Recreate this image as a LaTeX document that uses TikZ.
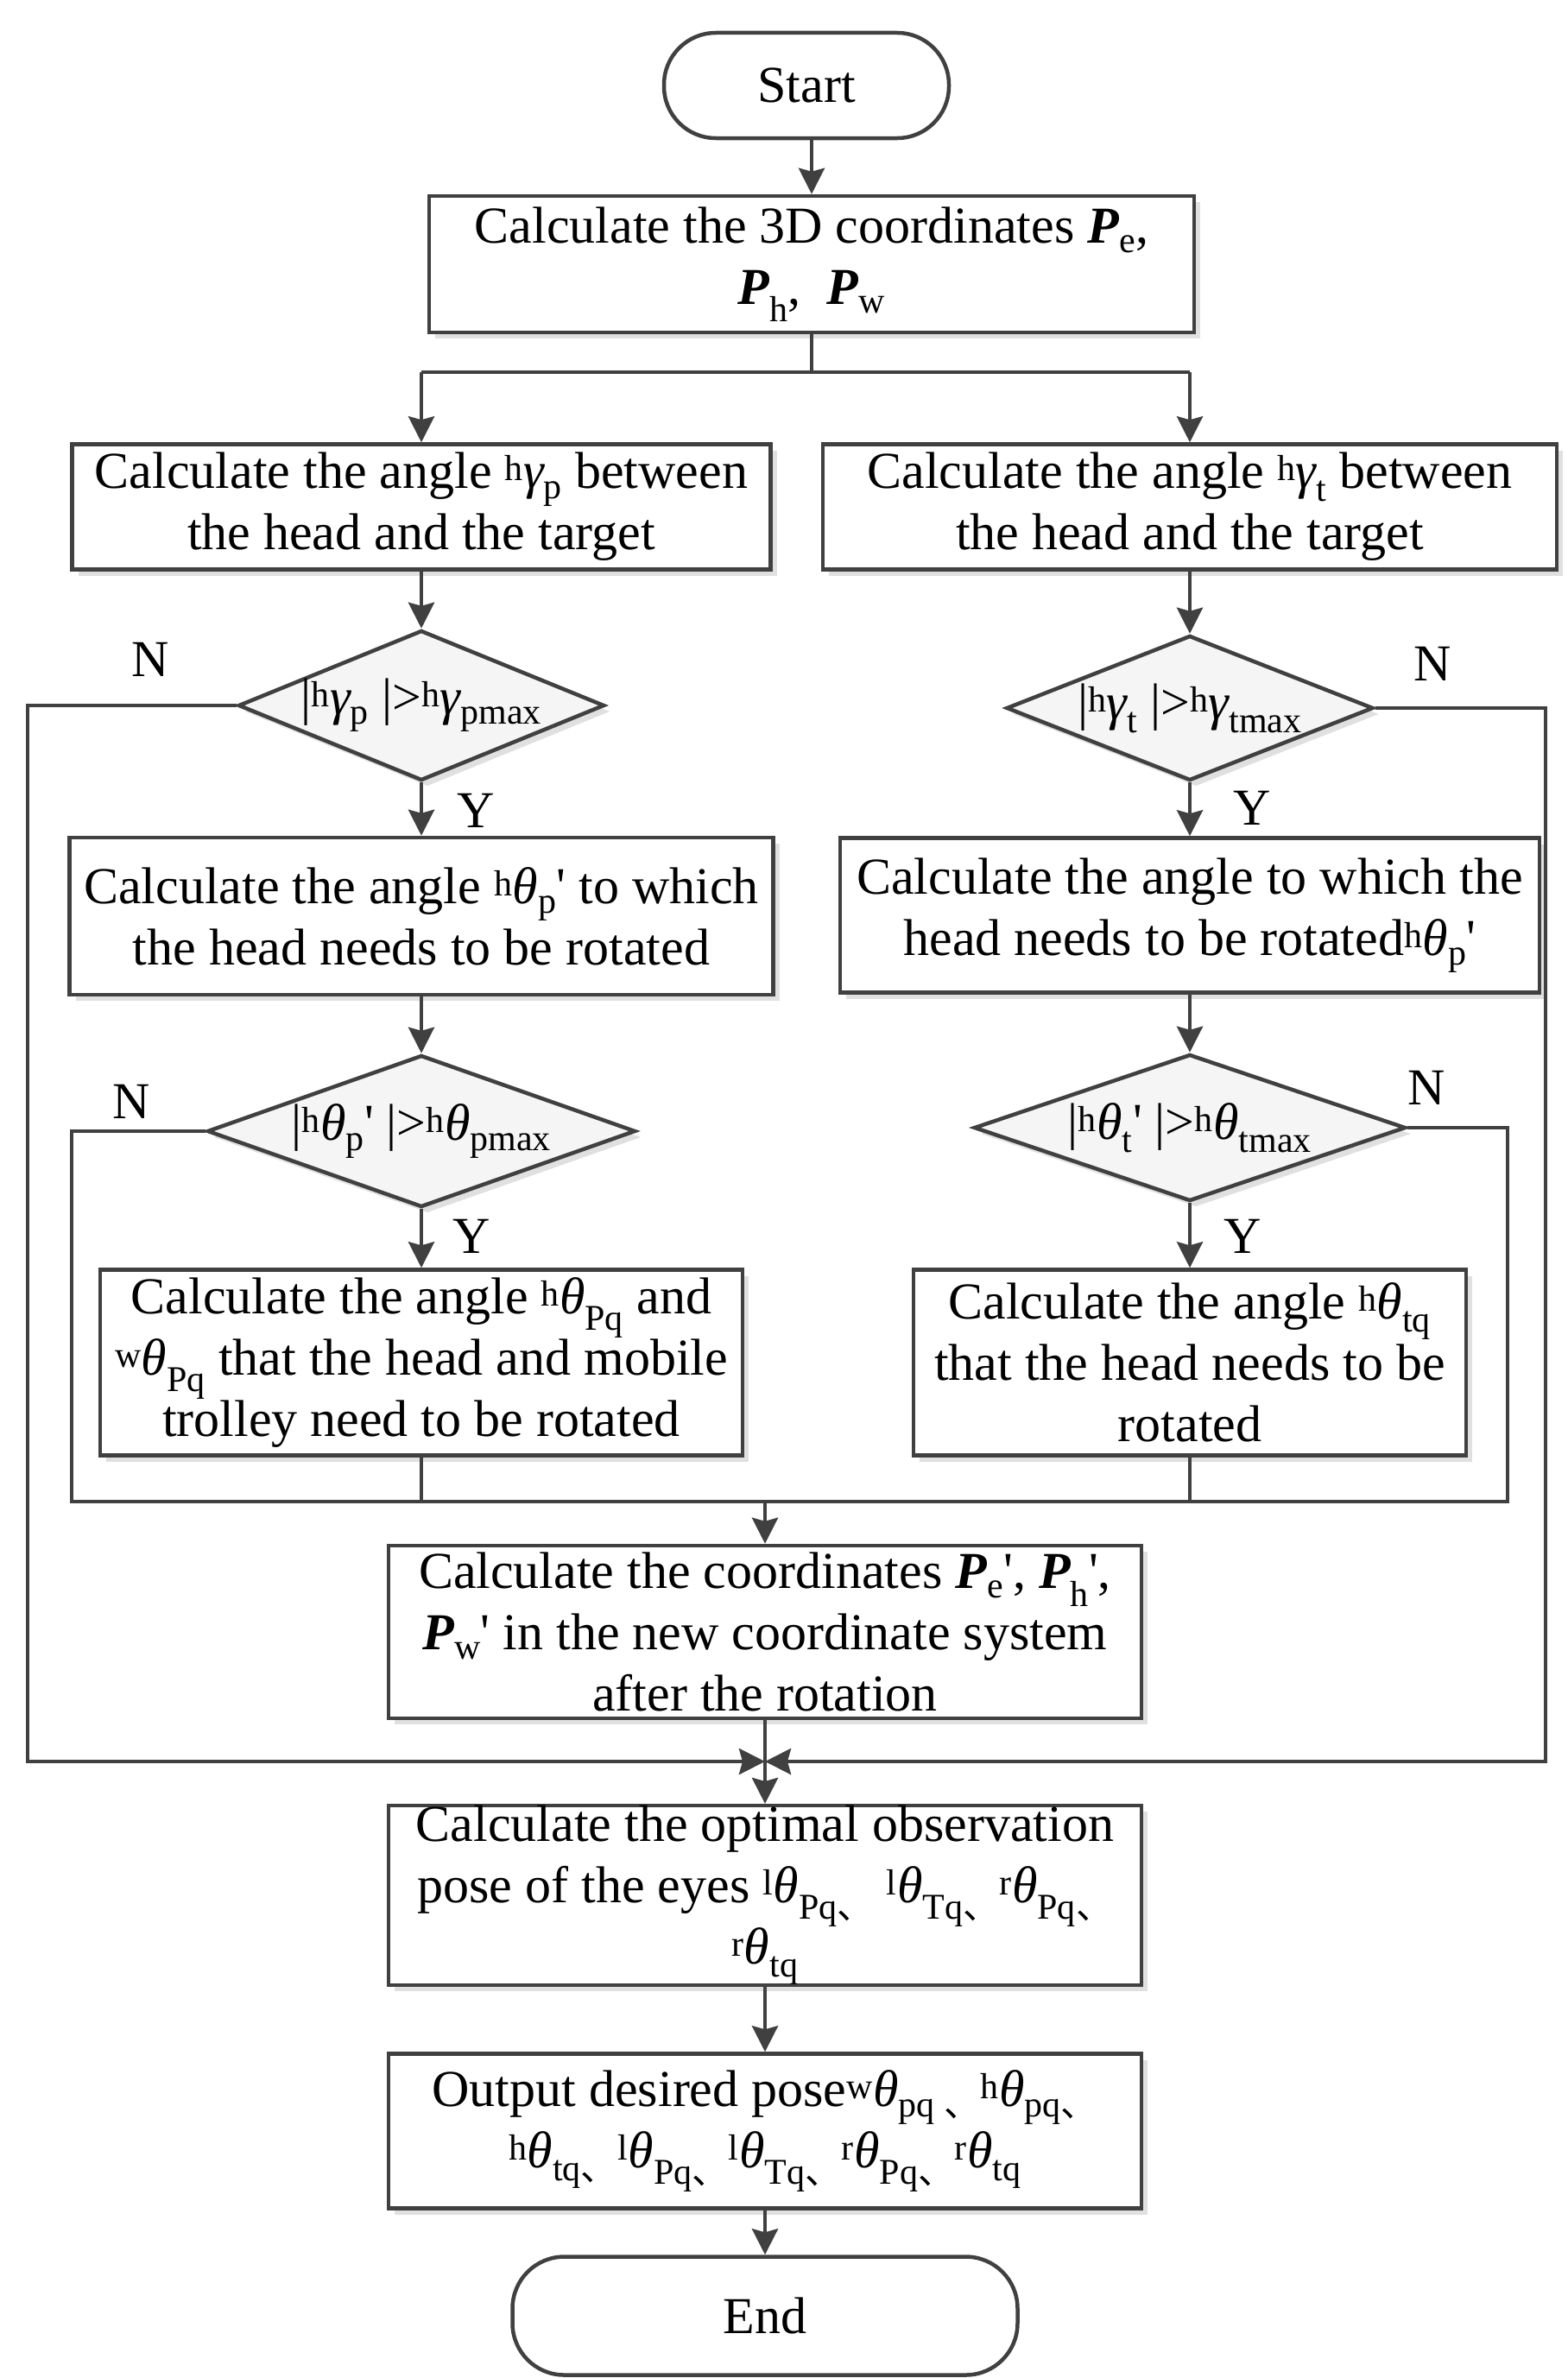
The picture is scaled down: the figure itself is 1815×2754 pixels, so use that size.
\documentclass[tikz,border=0pt]{standalone}
\usepackage{fontspec}
\setmainfont[Ligatures=TeXOff]{Liberation Serif}
\newfontfamily\cjkf{Noto Sans CJK SC}
\usetikzlibrary{arrows.meta,shapes.geometric,shadows}
\definecolor{ln}{HTML}{404040}
\newcommand\gsp[1]{\textsuperscript{#1}}
\newcommand\gsb[1]{\textsubscript{#1}}
\newcommand\ga{{\itshape γ}}
\newcommand\tha{{\itshape θ}}
\newcommand\BP{{\bfseries\itshape P}}
\newcommand\dn{{\cjkf 、}}
\tikzset{
  x=1pt, y=-1pt,
  base/.style={draw=ln, line width=4.5pt, align=center, inner sep=0pt,
    font=\fontsize{60pt}{71pt}\selectfont},
  box/.style={base, rectangle, fill=white,
    drop shadow={shadow xshift=7pt, shadow yshift=-7pt, fill=black!12, opacity=1}},
  term/.style={base, rectangle, rounded corners=60pt, fill=white},
  dia/.style={draw=ln, line width=4.5pt, diamond, inner sep=0pt, fill=black!4,
    drop shadow={shadow xshift=7pt, shadow yshift=-7pt, fill=black!12, opacity=1}},
  lab/.style={font=\fontsize{60pt}{71pt}\selectfont, inner sep=0pt},
  conn/.style={draw=ln, line width=4.5pt},
  arr/.style={conn, -{Stealth[length=30pt, width=30pt, inset=4pt]}},
}
\begin{document}
\begin{tikzpicture}
\useasboundingbox (0,0) rectangle (1815,2754);
% terminals
\node[term, minimum width=330pt, minimum height=122pt] (start) at (934,99) {Start};
\node[term, minimum width=585pt, minimum height=137pt] (end) at (886,2682) {End};
% boxes
\node[box, minimum width=886pt, minimum height=158pt] (b1) at (940,306)
  {Calculate the 3D coordinates \BP\gsb{e}, \\ \BP\gsb{h}, \ \BP\gsb{w}};
\node[box, minimum width=809pt, minimum height=145pt] (b2l) at (488,587)
  {Calculate the angle \gsp{h}\ga\gsb{p} between\\the head and the target};
\node[box, minimum width=850pt, minimum height=145pt] (b2r) at (1378,587)
  {Calculate the angle \gsp{h}\ga\gsb{t} between\\the head and the target};
\node[dia, minimum width=424pt, minimum height=174pt] (d1l) at (488,817) {};
\node[lab] at (d1l) {|\gsp{h}\ga\gsb{p} |>\gsp{h}\ga\gsb{pmax}};
\node[dia, minimum width=425pt, minimum height=168pt] (d1r) at (1378,820) {};
\node[lab] at (d1r) {|\gsp{h}\ga\gsb{t} |>\gsp{h}\ga\gsb{tmax}};
\node[box, minimum width=815pt, minimum height=182pt] (b3l) at (488,1061)
  {Calculate the angle \gsp{h}\tha\gsb{p}' to which\\the head needs to be rotated};
\node[box, minimum width=810pt, minimum height=179pt] (b3r) at (1378,1060)
  {Calculate the angle to which the\\head needs to be rotated\gsp{h}\tha\gsb{p}'};
\node[dia, minimum width=496pt, minimum height=176pt] (d2l) at (488,1310) {};
\node[lab] at (d2l) {|\gsp{h}\tha\gsb{p}' |>\gsp{h}\tha\gsb{pmax}};
\node[dia, minimum width=500pt, minimum height=170pt] (d2r) at (1378,1306) {};
\node[lab] at (d2r) {|\gsp{h}\tha\gsb{t}' |>\gsp{h}\tha\gsb{tmax}};
\node[box, minimum width=744pt, minimum height=215pt] (b4l) at (488,1578)
  {Calculate the angle \gsp{h}\tha\gsb{Pq} and\\\gsp{w}\tha\gsb{Pq} that the head and mobile\\trolley need to be rotated};
\node[box, minimum width=640pt, minimum height=215pt] (b4r) at (1378,1578)
  {Calculate the angle \gsp{h}\tha\gsb{tq}\\that the head needs to be\\rotated};
\node[box, minimum width=872pt, minimum height=200pt] (b5) at (886,1890)
  {Calculate the coordinates \BP\gsb{e}', \BP\gsb{h}',\\\BP\gsb{w}' in the new coordinate system\\after the rotation};
\node[box, minimum width=872pt, minimum height=204pt] (b6) at (886,2195)
  {Calculate the optimal observation\\pose of the eyes \gsp{l}\tha\gsb{Pq\dn} \gsp{l}\tha\gsb{Tq\dn}\gsp{r}\tha\gsb{Pq\dn}\\\gsp{r}\tha\gsb{tq}};
\node[box, minimum width=872pt, minimum height=179pt] (b7) at (886,2468)
  {Output desired pose\gsp{w}\tha\gsb{pq \dn}\gsp{h}\tha\gsb{pq\dn}\\\gsp{h}\tha\gsb{tq\dn}\gsp{l}\tha\gsb{Pq\dn}\gsp{l}\tha\gsb{Tq\dn}\gsp{r}\tha\gsb{Pq\dn}\gsp{r}\tha\gsb{tq}};
% labels
\node[lab] (n1) at (174,764) {N};
\node[lab] (n2) at (1659,769) {N};
\node[lab] (n3) at (152,1276) {N};
\node[lab] (n4) at (1652,1260) {N};
\node[lab] (y1) at (551,939) {Y};
\node[lab] (y2) at (1450,936) {Y};
\node[lab] (y3) at (546,1432) {Y};
\node[lab] (y4) at (1439,1432) {Y};
% coordinates
\coordinate (bus1M) at (940,431);
\coordinate (bus1L) at (488,431);
\coordinate (bus1R) at (1378,431);
\coordinate (iL) at (83,1739);
\coordinate (iR) at (1746,1739);
\coordinate (iM) at (886,1739);
\coordinate (oL) at (32,2040);
\coordinate (oR) at (1790,2040);
\coordinate (mrg) at (886,2040);
% connectors
\draw[arr] (start.south -| b1.north) -- (b1.north);
\draw[conn] (b1.south) -- (bus1M);
\draw[conn] (bus1L) -- (bus1R);
\draw[arr] (bus1L) -- (b2l);
\draw[arr] (bus1R) -- (b2r);
\draw[arr] (b2l) -- (d1l);
\draw[arr] (b2r) -- (d1r);
\draw[arr] (d1l) -- (b3l);
\draw[arr] (d1r) -- (b3r);
\draw[arr] (b3l) -- (d2l);
\draw[arr] (b3r) -- (d2r);
\draw[arr] (d2l) -- (b4l);
\draw[arr] (d2r) -- (b4r);
\draw[conn] (d2l.west) -| (iL) -- (iR) |- (d2r.east);
\draw[conn] (b4l.south) -- (b4l.south |- iL);
\draw[conn] (b4r.south) -- (b4r.south |- iL);
\draw[arr] (iM) -- (b5);
\draw[arr] (d1l.west) -| (oL) -- (mrg);
\draw[arr] (d1r.east) -| (oR) -- (mrg);
\draw[arr] (b5) -- (b6);
\draw[arr] (b6) -- (b7);
\draw[arr] (b7) -- (end);
\end{tikzpicture}
\end{document}
